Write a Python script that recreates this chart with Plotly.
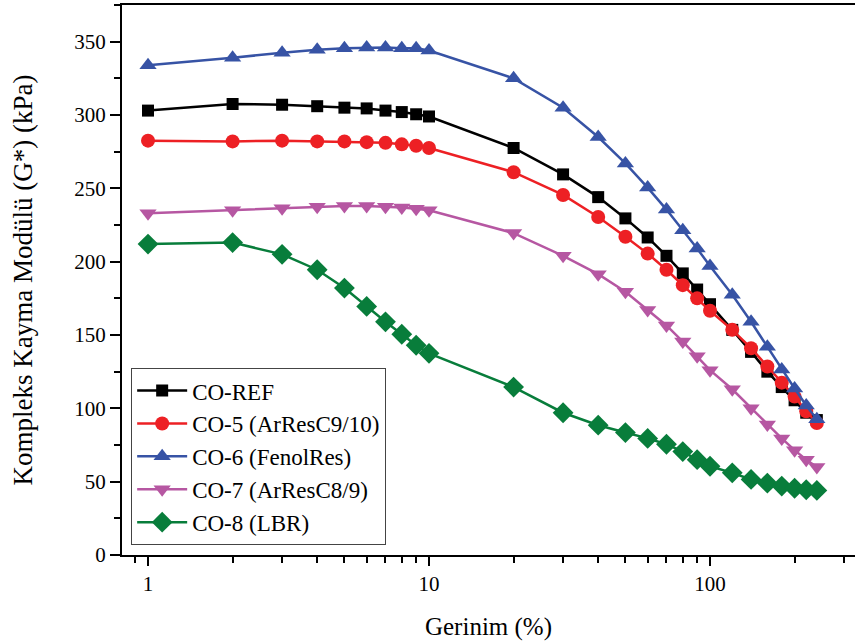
import math
import plotly.graph_objects as go

# Strain levels (%)
strain = [1, 2, 3, 4, 5, 6, 7, 8, 9, 10,
          20, 30, 40, 50, 60, 70, 80, 90, 100,
          120, 140, 160, 180, 200, 220, 240]

# Complex shear modulus G* (kPa) for each binder
co_ref = [303, 307.5, 307, 306, 305, 304.5, 303, 302, 300.5, 299,
          277.5, 259.5, 244, 229.5, 216.5, 204, 192, 181, 171,
          153.5, 138.5, 125, 114.5, 105.5, 97, 92]
co_5 = [282.5, 282, 282.5, 282, 282, 281.5, 281, 280, 279, 277.5,
        261, 245.5, 230.5, 217, 205.5, 194.5, 184, 175, 166.5,
        153.5, 141, 128.5, 117.5, 108, 98, 90]
co_6 = [334, 339, 342.5, 344.5, 345.5, 346, 346, 345.5, 345.5, 344,
        325, 305, 285, 267, 250.5, 235.5, 221.5, 209, 197,
        177.5, 159, 142, 126.5, 113.5, 102, 92.5]
co_7 = [233, 235, 236.5, 237.5, 238, 238, 237.5, 237, 236, 235,
        219.5, 204, 191.5, 179.5, 167, 156.5, 145.5, 135.5, 126,
        113, 100, 89, 79.5, 71.5, 65, 60]
co_8 = [212, 213, 205, 194.5, 182, 169.5, 159, 150.5, 143, 137.5,
        114.5, 97, 88.5, 83.5, 79.5, 75.5, 70.5, 65, 60.5,
        56, 51.5, 49, 47, 45.5, 44.5, 44]

series = [
    ("CO-REF", co_ref, "#000000", "square", 12),
    ("CO-5 (ArResC9/10)", co_5, "#ED2024", "circle", 14),
    ("CO-6 (FenolRes)", co_6, "#3753A5", "triangle-up", 15),
    ("CO-7 (ArResC8/9)", co_7, "#B657A2", "triangle-down", 15),
    ("CO-8 (LBR)", co_8, "#087D3B", "diamond", 16),
]

FONT = "Times New Roman, Liberation Serif, serif"

fig = go.Figure()
for name, vals, color, symbol, size in series:
    fig.add_trace(go.Scatter(
        x=strain, y=vals, name=name, mode="lines+markers",
        line=dict(color=color, width=2.5),
        marker=dict(symbol=symbol, size=size, color=color,
                    line=dict(width=0)),
    ))

fig.update_layout(
    width=855, height=641,
    margin=dict(l=122, r=0, t=5, b=86),
    paper_bgcolor="white", plot_bgcolor="white",
    font=dict(family=FONT, color="black"),
    showlegend=True,
    legend=dict(
        x=0.0125, y=0.018, xanchor="left", yanchor="bottom",
        bordercolor="#444444", borderwidth=1, bgcolor="white",
        font=dict(family=FONT, size=23, color="black"),
        tracegroupgap=0, itemwidth=50,
    ),
)

fig.update_xaxes(
    type="log",
    range=[math.log10(0.808), 2.516],
    dtick=1,
    showgrid=False, zeroline=False,
    showline=True, linecolor="black", linewidth=2, mirror=True,
    ticks="outside", ticklen=9, tickwidth=2, tickcolor="black",
    tickfont=dict(family=FONT, size=21, color="black"),
    minor=dict(ticks="outside", ticklen=6, tickwidth=2,
               tickcolor="black", dtick="D1", showgrid=False),
    title=dict(text="Gerinim (%)", standoff=22,
               font=dict(family=FONT, size=25, color="black")),
)

fig.update_yaxes(
    range=[0, 375],
    tick0=0, dtick=50,
    showgrid=False, zeroline=False,
    showline=True, linecolor="black", linewidth=2, mirror=False,
    ticks="outside", ticklen=10, tickwidth=2, tickcolor="black",
    tickfont=dict(family=FONT, size=21, color="black"),
    minor=dict(ticks="outside", ticklen=6, tickwidth=2,
               tickcolor="black", dtick=25, showgrid=False),
    title=dict(text="Kompleks Kayma Modülü (G*) (kPa)", standoff=34,
               font=dict(family=FONT, size=27, color="black")),
)

fig.write_html("out.html")
